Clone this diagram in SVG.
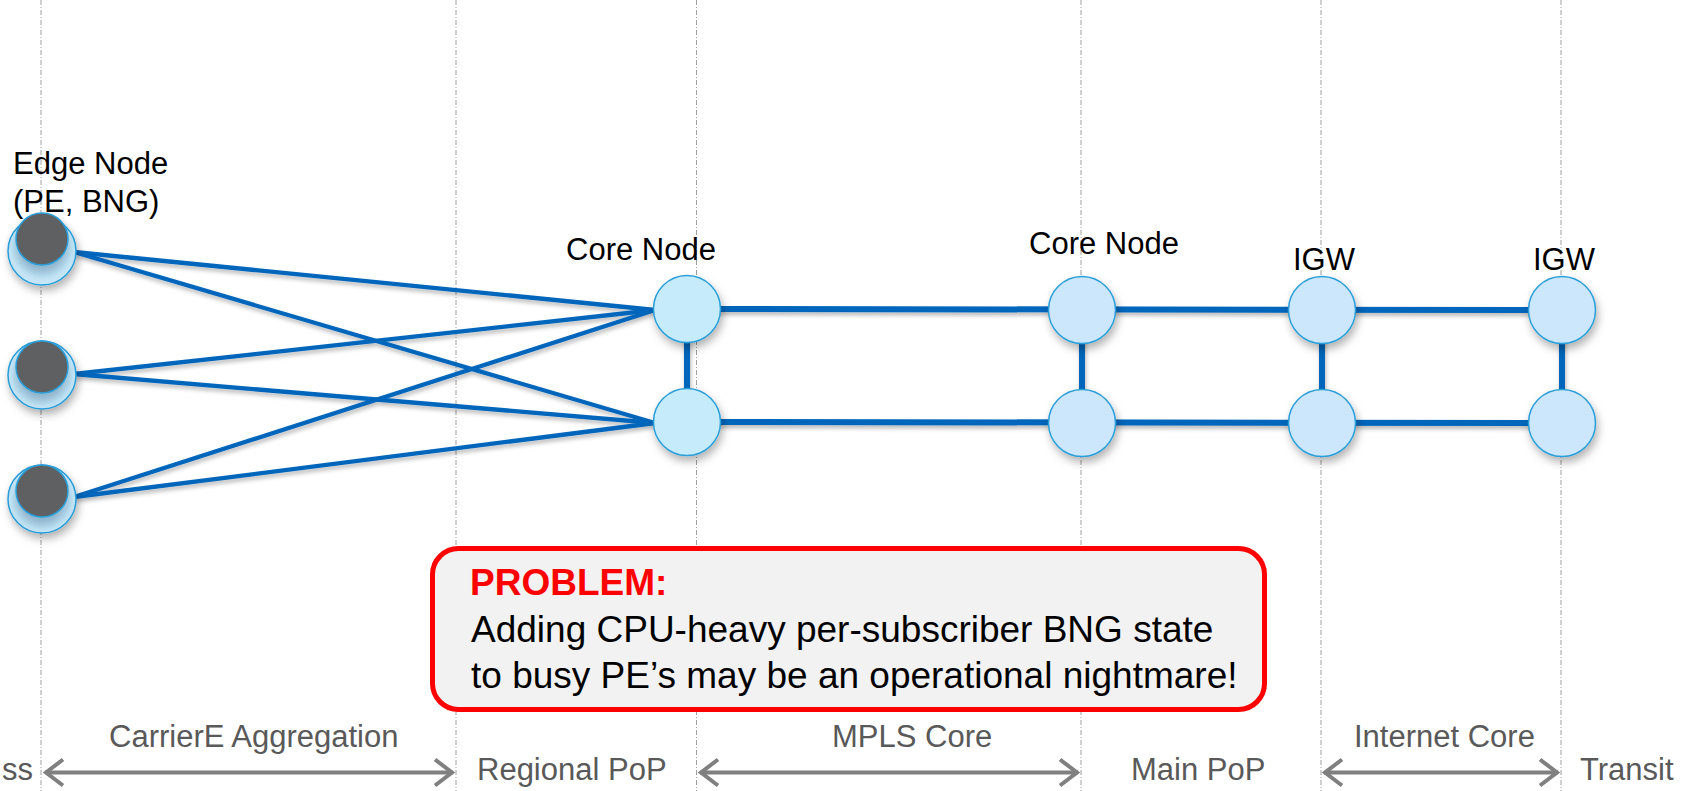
<svg xmlns="http://www.w3.org/2000/svg" width="1694" height="791" viewBox="0 0 1694 791">
  <style>
    .lbl { font-family: "Liberation Sans", Arial, sans-serif; font-size: 31px; fill: #000; }
    .zone { font-family: "Liberation Sans", Arial, sans-serif; font-size: 31px; fill: #595959; }
    .guide { stroke: #a0a0a0; stroke-width: 1; stroke-dasharray: 5 2 1 2; fill: none; }
    .link { stroke: #0066bb; fill: none; stroke-linecap: butt; }
    .thin { stroke-width: 4.3; }
    .trunk { stroke-width: 6; }
    .rung { stroke-width: 6; }
    .node { fill: #cce6fb; stroke: #2a9ed8; stroke-width: 1.5; }
    .node.first { fill: #c6ebfb; }
    .ring { fill: #c8e8f8; stroke: #2a9ed8; stroke-width: 1.5; }
    .core { fill: #5f6062; stroke: #2a9ed8; stroke-width: 1.5; }
    .span { stroke: #808080; stroke-width: 4; fill: none; marker-start: url(#chev); marker-end: url(#chev); }
    .boxtxt { font-family: "Liberation Sans", Arial, sans-serif; font-size: 37px; fill: #000; }
  </style>
  <defs>
    <filter id="lineShadow" x="-5%" y="-20%" width="110%" height="160%">
      <feDropShadow dx="1" dy="3" stdDeviation="2" flood-color="#000" flood-opacity="0.28"/>
    </filter>
    <filter id="nodeShadow" x="-40%" y="-40%" width="180%" height="190%">
      <feDropShadow dx="2" dy="5" stdDeviation="4" flood-color="#000" flood-opacity="0.3"/>
    </filter>
    <filter id="innerShadow" x="-40%" y="-40%" width="180%" height="190%">
      <feDropShadow dx="0" dy="8" stdDeviation="5" flood-color="#1d4f78" flood-opacity="0.35"/>
    </filter>
    <marker id="chev" markerUnits="userSpaceOnUse" markerWidth="24" markerHeight="32" viewBox="0 0 24 32" refX="21" refY="16" orient="auto-start-reverse">
      <path d="M3,3 L20,16 L3,29" stroke="#808080" stroke-width="4" fill="none"/>
    </marker>
  </defs>

  <!-- zone boundaries -->
  <g id="guides">
    <line class="guide" x1="41" y1="0" x2="41" y2="791"/>
    <line class="guide" x1="456" y1="0" x2="456" y2="791"/>
    <line class="guide" x1="696.5" y1="0" x2="696.5" y2="791"/>
    <line class="guide" x1="1081" y1="0" x2="1081" y2="791"/>
    <line class="guide" x1="1321" y1="0" x2="1321" y2="791"/>
    <line class="guide" x1="1561" y1="0" x2="1561" y2="791"/>
  </g>

  <!-- links -->
  <g id="connectors" filter="url(#lineShadow)">
    <line class="link thin" x1="74" y1="252" x2="655" y2="310"/>
    <line class="link thin" x1="74" y1="252" x2="655" y2="423"/>
    <line class="link thin" x1="74" y1="374" x2="655" y2="310"/>
    <line class="link thin" x1="74" y1="374" x2="655" y2="423"/>
    <line class="link thin" x1="74" y1="497" x2="655" y2="310"/>
    <line class="link thin" x1="74" y1="497" x2="655" y2="423"/>
    <line class="link trunk" x1="687" y1="309" x2="1562" y2="310"/>
    <line class="link trunk" x1="687" y1="422" x2="1562" y2="423"/>
    <line class="link rung" x1="687" y1="309" x2="687" y2="422"/>
    <line class="link rung" x1="1082" y1="310" x2="1082" y2="423"/>
    <line class="link rung" x1="1322" y1="310" x2="1322" y2="423"/>
    <line class="link rung" x1="1562" y1="310" x2="1562" y2="423"/>
  </g>

  <!-- edge nodes (PE, BNG) -->
  <g id="edge-1">
    <circle class="ring" cx="42" cy="251" r="34" filter="url(#nodeShadow)"/>
    <circle class="core" cx="42" cy="239" r="26" filter="url(#innerShadow)"/>
  </g>
  <g id="edge-2">
    <circle class="ring" cx="42" cy="375" r="34" filter="url(#nodeShadow)"/>
    <circle class="core" cx="42" cy="367" r="26" filter="url(#innerShadow)"/>
  </g>
  <g id="edge-3">
    <circle class="ring" cx="42" cy="499" r="34" filter="url(#nodeShadow)"/>
    <circle class="core" cx="42" cy="491" r="26" filter="url(#innerShadow)"/>
  </g>

  <!-- core and gateway nodes -->
  <g id="core-1a"><circle class="node first" cx="687" cy="309" r="33.5" filter="url(#nodeShadow)"/></g>
  <g id="core-1b"><circle class="node first" cx="687" cy="422" r="33.5" filter="url(#nodeShadow)"/></g>
  <g id="core-2a"><circle class="node" cx="1082" cy="310" r="33.5" filter="url(#nodeShadow)"/></g>
  <g id="core-2b"><circle class="node" cx="1082" cy="423" r="33.5" filter="url(#nodeShadow)"/></g>
  <g id="igw-1a"><circle class="node" cx="1322" cy="310" r="33.5" filter="url(#nodeShadow)"/></g>
  <g id="igw-1b"><circle class="node" cx="1322" cy="423" r="33.5" filter="url(#nodeShadow)"/></g>
  <g id="igw-2a"><circle class="node" cx="1562" cy="310" r="33.5" filter="url(#nodeShadow)"/></g>
  <g id="igw-2b"><circle class="node" cx="1562" cy="423" r="33.5" filter="url(#nodeShadow)"/></g>

  <!-- node labels -->
  <g id="labels">
    <text class="lbl" x="13" y="174">Edge Node</text>
    <text class="lbl" x="13" y="212">(PE, BNG)</text>
    <text class="lbl" x="566" y="260">Core Node</text>
    <text class="lbl" x="1029" y="254">Core Node</text>
    <text class="lbl" x="1293" y="270">IGW</text>
    <text class="lbl" x="1533" y="270">IGW</text>
  </g>

  <!-- problem callout -->
  <g id="problem">
    <rect x="432.5" y="548.5" width="832" height="161" rx="26" ry="26" fill="#f2f2f2" stroke="#ff0000" stroke-width="5"/>
    <text x="470" y="595" font-family="'Liberation Sans', Arial, sans-serif" font-size="37" font-weight="bold" fill="#ff0000">PROBLEM:</text>
    <text class="boxtxt" x="471" y="642">Adding CPU-heavy per-subscriber BNG state</text>
    <text class="boxtxt" x="471" y="688">to busy PE’s may be an operational nightmare!</text>
  </g>

  <!-- network zones -->
  <g id="zones">
    <text class="zone" x="2" y="780">ss</text>
    <text class="zone" x="109" y="747">CarrierE Aggregation</text>
    <line class="span" x1="45" y1="772.5" x2="453" y2="772.5"/>
    <text class="zone" x="477" y="780">Regional PoP</text>
    <text class="zone" x="832" y="747">MPLS Core</text>
    <line class="span" x1="700" y1="772.5" x2="1078" y2="772.5"/>
    <text class="zone" x="1131" y="780">Main PoP</text>
    <text class="zone" x="1354" y="747">Internet Core</text>
    <line class="span" x1="1324" y1="772.5" x2="1558" y2="772.5"/>
    <text class="zone" x="1580" y="780">Transit</text>
  </g>
</svg>
